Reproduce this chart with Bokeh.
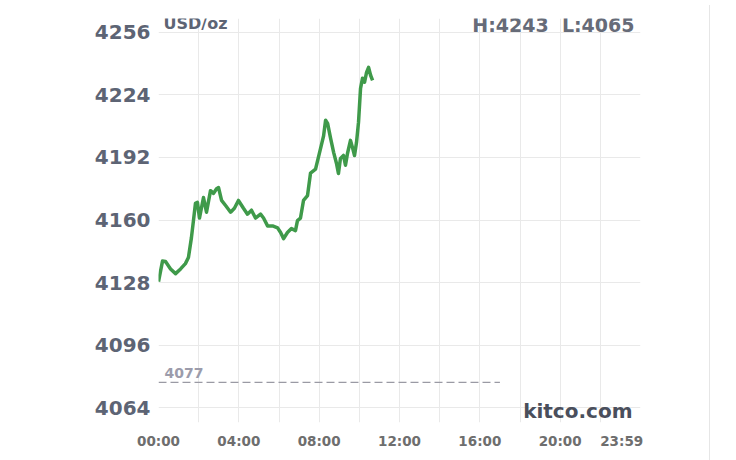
from bokeh.plotting import figure
from bokeh.models import FixedTicker, Label, Div, Range1d
from bokeh.layouts import row
from bokeh.embed import file_html
from bokeh.resources import INLINE

# ---- data (hours since 00:00, USD/oz) ----
hours = [0.00, 0.20, 0.35, 0.60, 0.85, 1.10, 1.34, 1.49, 1.64, 1.74, 1.84, 1.94,
         2.04, 2.24, 2.39, 2.59, 2.74, 2.89, 2.99, 3.14, 3.34, 3.59, 3.78, 3.98,
         4.23, 4.43, 4.63, 4.83, 5.08, 5.23, 5.43, 5.68, 5.93, 6.08, 6.23, 6.42,
         6.62, 6.82, 6.92, 7.07, 7.22, 7.42, 7.57, 7.82, 8.07, 8.22, 8.32, 8.42,
         8.57, 8.72, 8.86, 8.96, 9.06, 9.21, 9.31, 9.41, 9.56, 9.66, 9.76, 9.86,
         9.96, 10.06, 10.16, 10.26, 10.36, 10.46, 10.56, 10.66]
prices = [4128.5, 4139.0, 4138.8, 4135.0, 4132.6, 4135.0, 4137.7, 4140.8, 4151.0, 4159.7, 4168.5, 4169.0,
          4161.0, 4171.5, 4164.0, 4175.0, 4173.6, 4176.0, 4176.6, 4170.0, 4167.4, 4164.0, 4166.0, 4170.0,
          4166.0, 4163.0, 4165.0, 4161.0, 4163.0, 4161.0, 4157.0, 4157.0, 4156.0, 4153.6, 4150.5, 4153.6,
          4155.6, 4154.6, 4159.7, 4161.0, 4170.0, 4172.5, 4184.0, 4186.0, 4196.6, 4203.0, 4211.0, 4209.4,
          4201.7, 4194.6, 4189.0, 4183.8, 4191.5, 4193.0, 4188.0, 4194.0, 4200.7, 4197.0, 4193.0, 4199.7,
          4210.0, 4227.3, 4232.5, 4230.4, 4235.5, 4238.0, 4234.0, 4231.4]

y_ticks = [4064, 4096, 4128, 4160, 4192, 4224, 4256]
x_ticks = [0, 4, 8, 12, 16, 20, 24]
x_tick_labels = ["00:00", "04:00", "08:00", "12:00", "16:00", "20:00", "23:59"]
grid_hours = [0, 2, 4, 6, 8, 10, 12, 14, 16, 18, 20, 22, 24]
prev_close = 4077
prev_close_end_hour = 17
high_value = 4243
low_value = 4065
unit_text = "USD/oz"
brand_text = "kitco.com"

FONT = "DejaVu Sans"

fig = figure(width=704, height=460,
             x_range=Range1d(0, 24), y_range=Range1d(4056.5, 4263),
             output_backend="svg", toolbar_location=None,
             min_border_left=158, min_border_right=64,
             min_border_top=18, min_border_bottom=38)
fig.outline_line_color = None
fig.background_fill_color = "white"
fig.border_fill_color = "white"

# axes (the last label sits flush with the right edge, as in the original)
overrides = {t: l for t, l in zip(x_ticks, x_tick_labels)}
overrides[x_ticks[-1]] = x_tick_labels[-1] + "\u00a0" * 8
fig.yaxis.ticker = FixedTicker(ticks=y_ticks)
fig.xaxis.ticker = FixedTicker(ticks=x_ticks)
fig.xaxis.major_label_overrides = overrides

for ax in (fig.xaxis[0], fig.yaxis[0]):
    ax.axis_line_color = None
    ax.major_tick_line_color = None
    ax.minor_tick_line_color = None
    ax.major_tick_out = 0
    ax.major_tick_in = 0
    ax.minor_tick_out = 0
    ax.minor_tick_in = 0
    ax.major_label_text_font = FONT
    ax.major_label_text_font_style = "bold"
fig.yaxis.major_label_text_font_size = "20px"
fig.yaxis.major_label_text_color = "#5d6474"
fig.yaxis.major_label_standoff = 8
fig.xaxis.major_label_text_font_size = "13.5px"
fig.xaxis.major_label_text_color = "#6e6e6e"
fig.xaxis.major_label_standoff = 10

# grid
fig.xgrid.ticker = FixedTicker(ticks=grid_hours)
fig.xgrid.grid_line_color = "#e9e9e9"
fig.ygrid.grid_line_color = "#e9e9e9"

# previous close reference
fig.line([0, prev_close_end_hour], [prev_close, prev_close],
         line_color="#9a9aa4", line_width=1.2, line_dash="8 4")
fig.add_layout(Label(x=0.3, y=prev_close, y_offset=4, text=str(prev_close),
                     text_font=FONT, text_font_style="bold", text_font_size="14px",
                     text_color="#9c9cab", text_baseline="bottom", text_align="left"))

# price line
fig.line(hours, prices, line_color="#3f9a4a", line_width=3.5, line_join="round")

# texts
fig.add_layout(Label(x=5, y=399, x_units="screen", y_units="screen", text=unit_text,
                     text_font=FONT, text_font_style="bold", text_font_size="16px",
                     text_color="#5d6474", text_baseline="middle", text_align="left"))
fig.add_layout(Label(x=476, y=398, x_units="screen", y_units="screen",
                     text=f"H:{high_value}\u00a0 L:{low_value}",
                     text_font=FONT, text_font_style="bold", text_font_size="19px",
                     text_color="#666b78", text_baseline="middle", text_align="right"))
fig.add_layout(Label(x=474, y=12, x_units="screen", y_units="screen", text=brand_text,
                     text_font=FONT, text_font_style="bold", text_font_size="20px",
                     text_color="#4a4f5c", text_baseline="middle", text_align="right"))

edge = Div(width=1, height=460, styles={"background-color": "#e6e6e6"})
p = row(fig, edge, spacing=0)

open("out.html", "w").write(file_html(p, INLINE))
